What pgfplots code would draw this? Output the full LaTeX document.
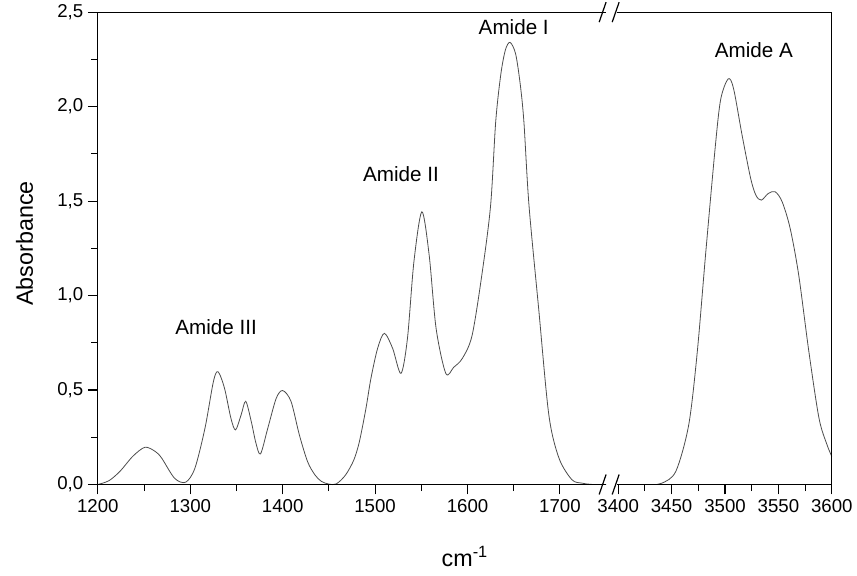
\documentclass[border=0pt]{standalone}
\usepackage{fontspec}
\setmainfont{Liberation Sans}
\usepackage{pgfplots}
\pgfplotsset{compat=1.18}

\pgfplotsset{
  ftir/.style={
    scale only axis, height=354.75pt,
    ymin=0, ymax=2.5,
    axis line style={draw=none},
    tick align=outside,
    major tick length=7.5pt, minor tick length=5pt,
    tick style={black, line width=0.8pt},
    xtick pos=bottom, ytick pos=left,
    tick label style={font=\fontsize{14}{16}\selectfont},
    /pgf/number format/assume math mode=true,
    /pgf/number format/1000 sep={},
    clip=false,
  },
}

\begin{document}
\begin{tikzpicture}
% ===== left part: 1200-1750 =====
\begin{axis}[ftir, name=L,
  width=381.75pt,
  xmin=1200, xmax=1750,
  xtick={1200,1300,...,1700}, minor x tick num=1,
  ytick={0,0.5,...,2.5}, minor y tick num=1,
  yticklabel style={/pgf/number format/.cd, fixed, fixed zerofill, precision=1, use comma},
]
\addplot[black!70, line width=0.6pt, smooth, tension=0.5] coordinates {
  (1200,0.0) (1212,0.02) (1224,0.07) (1238,0.15) (1251,0.197) (1262,0.175)
  (1269,0.14) (1283,0.033) (1295,0.012) (1305,0.086) (1316,0.30) (1325,0.544)
  (1330,0.597) (1337,0.51) (1344,0.35) (1349,0.289) (1355,0.368) (1360,0.44)
  (1366,0.333) (1371,0.22) (1376,0.162) (1384,0.30) (1393,0.456) (1400,0.497)
  (1409,0.44) (1418,0.263) (1427,0.12) (1435,0.05) (1442,0.016) (1450,0.002)
  (1458,0.003) (1468,0.05) (1477,0.13) (1483,0.227) (1490,0.40) (1495.5,0.562)
  (1502.7,0.72) (1510,0.80) (1519,0.72) (1528,0.588) (1535,0.773) (1542,1.179)
  (1550.6,1.443) (1558.5,1.214) (1566,0.826) (1576.5,0.588) (1585,0.62)
  (1594.5,0.668) (1605,0.79) (1616,1.126) (1625,1.478) (1630.5,1.92)
  (1636,2.17) (1641,2.30) (1646,2.34) (1652,2.28) (1657,2.12) (1661,1.92)
  (1666.5,1.478) (1677,0.93) (1688,0.368) (1699,0.139) (1713,0.025)
  (1724,0.007) (1735,0) (1750,0)};
\node[font=\fontsize{15.5}{18}\selectfont] at (axis cs:1328,0.835) {Amide III};
\node[font=\fontsize{15.5}{18}\selectfont] at (axis cs:1528,1.644) {Amide II};
\node[font=\fontsize{15.5}{18}\selectfont] at (axis cs:1650,2.42) {Amide I};
\end{axis}
% ===== right part: 3400-3600 =====
\begin{axis}[ftir, name=R,
  at={(390pt,0pt)}, anchor=south west,
  width=161.25pt,
  xmin=3399, xmax=3600,
  xtick={3400,3450,...,3600}, minor x tick num=1,
  ytick=\empty,
]
\addplot[black!70, line width=0.6pt, smooth, tension=0.5] coordinates {
  (3399,0) (3430,0) (3441,0.007) (3454,0.07) (3466,0.315) (3474,0.70)
  (3482,1.23) (3491,1.795) (3496,2.04) (3503,2.147) (3508,2.095) (3516,1.848)
  (3524,1.62) (3529,1.53) (3534,1.505) (3540.5,1.54) (3547,1.549)
  (3553.5,1.496) (3561,1.355) (3569,1.108) (3578.5,0.703) (3588,0.35)
  (3595.5,0.21) (3600,0.148)};
\node[font=\fontsize{15.5}{18}\selectfont] at (axis cs:3527,2.30) {Amide A};
\end{axis}
% frame
\draw[line width=0.9pt] (L.south east) -- (L.south west) -- (L.north west) -- (L.north east);
\draw[line width=0.9pt] (R.south west) -- (R.south east) -- (R.north east) -- (R.north west);
% break marks
\foreach \c in {379.1pt, 388.9pt} {
  \draw[line width=0.9pt] (\c-2.6pt,-7.5pt) -- (\c+2.6pt,7.5pt);
  \draw[line width=0.9pt] (\c-2.6pt,354.75pt-7.5pt) -- (\c+2.6pt,354.75pt+7.5pt);
}
% axis titles
\node[rotate=90, font=\fontsize{17.5}{20}\selectfont] at (-55pt,181pt) {Absorbance};
\node[font=\fontsize{17.5}{20}\selectfont] at (275.6pt,-54pt) {cm\textsuperscript{-1}};
% page size
\path (-73.5pt,-68.25pt) rectangle (569.25pt,362.25pt);
\end{tikzpicture}
\end{document}
